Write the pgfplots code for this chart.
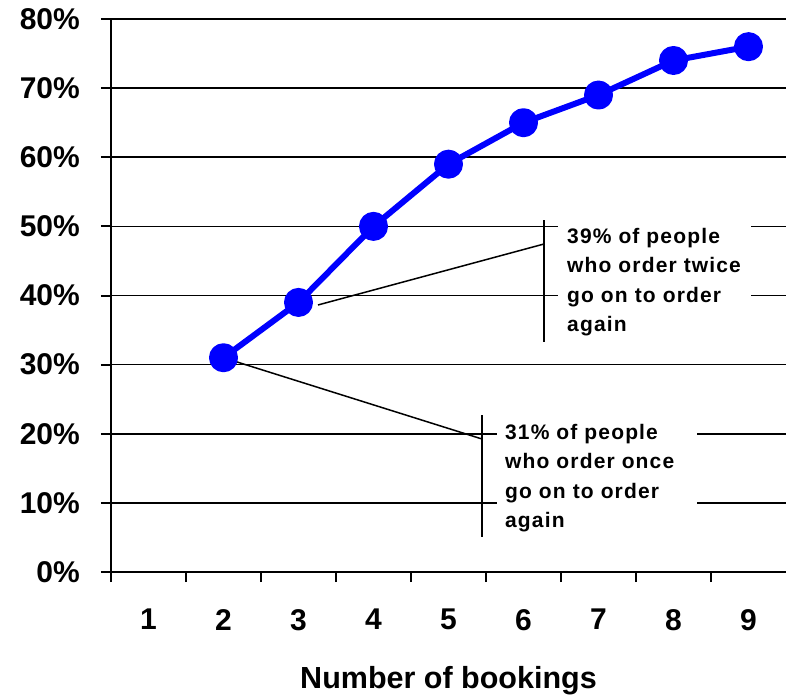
\documentclass[border=0pt]{standalone}
\usepackage{fontspec}
\setmainfont{Liberation Sans}
\usepackage{pgfplots}
\usepackage{pgfplotstable}
\pgfplotsset{compat=1.18}

% share of customers who book again, by number of bookings made
\pgfplotstableread{
n share
2 31
3 39
4 50
5 59
6 65
7 69
8 74
9 76
}\repeatorders

\begin{document}
\begin{tikzpicture}
\useasboundingbox (-111pt,-125pt) rectangle (675pt,572pt);
\begin{axis}[
  at={(0pt,0pt)}, anchor=south west,
  scale only axis, width=675pt, height=553pt,
  xmin=0.5, xmax=9.5, ymin=0, ymax=80,
  axis x line*=bottom, axis y line*=left,
  axis line style={line width=2.5pt, black},
  clip=false,
  ymajorgrids, grid style={black, line width=1.6pt},
  ytick={0,10,...,80},
  yticklabel={\pgfmathprintnumber{\tick}\%},
  xtick={0.5,1.5,...,8.5},
  xticklabels={},
  extra x ticks={1,...,9},
  extra x tick labels={1,2,3,4,5,6,7,8,9},
  extra x tick style={major tick length=0pt},
  tick align=outside,
  major tick length=10pt,
  tick style={black, line width=2pt},
  /pgf/number format/assume math mode=true,
  tick label style={font=\fontsize{30}{36}\selectfont\bfseries},
  yticklabel style={anchor=east, inner sep=0pt, xshift=-21pt},
  xticklabel style={anchor=north, inner sep=0pt, yshift=-37pt},
  xlabel={Number of bookings},
  xlabel style={at={(axis description cs:0.5,0)}, anchor=base, yshift=-116pt,
    font=\fontsize{30.5}{36}\selectfont\bfseries},
]
% heavier top border
\draw[line width=2.5pt] (axis cs:0.5,80) -- (axis cs:9.5,80);

% callout for two bookings
\fill[white] (axis cs:6.46,32.84) rectangle (axis cs:9.03,50.92);
\draw[line width=1.5pt] (axis cs:3.26,38.63) -- (axis cs:6.273,47.45);
\draw[line width=1.5pt] (axis cs:6.273,50.92) -- (axis cs:6.273,33.27);
\node[anchor=base west, align=left, inner sep=0pt,
  font=\fontsize{21}{29.5}\selectfont\bfseries\addfontfeatures{LetterSpace=5.5}]
  at (axis cs:6.58,34.76) {39\% of people\\who order twice\\go on to order\\again};

% callout for one booking
\fill[white] (axis cs:5.647,4.63) rectangle (axis cs:8.313,23.0);
\draw[line width=1.5pt] (axis cs:2,31) -- (axis cs:5.447,19.24);
\draw[line width=1.5pt] (axis cs:5.447,22.71) -- (axis cs:5.447,5.06);
\node[anchor=base west, align=left, inner sep=0pt,
  font=\fontsize{21}{29.5}\selectfont\bfseries\addfontfeatures{LetterSpace=5.5}]
  at (axis cs:5.753,6.37) {31\% of people\\who order once\\go on to order\\again};

\addplot[blue, line width=6pt, line join=round, mark=*, mark size=11.5pt,
  mark options={draw=none, fill=blue}] table[x=n, y=share] {\repeatorders};
\end{axis}
\end{tikzpicture}
\end{document}
